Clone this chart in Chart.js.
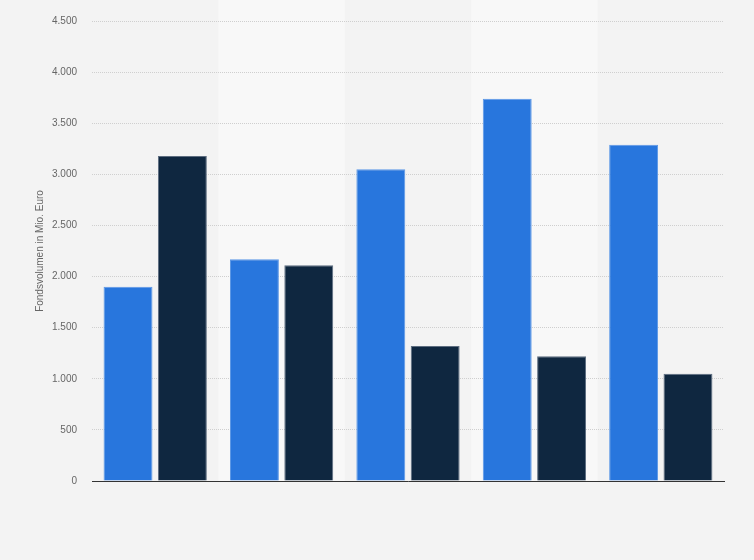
<!DOCTYPE html>
<html>
<head>
<meta charset="utf-8">
<script src="https://cdn.jsdelivr.net/npm/chart.js@4"></script>
<style>
  html, body { margin: 0; padding: 0; background: #f3f3f3; }
  #wrap { width: 754px; height: 560px; }
</style>
</head>
<body>
<div id="wrap"><canvas id="chart"></canvas></div>
<script>
const categories = ["", "", "", "", ""];
const seriesA = [1900, 2170, 3050, 3740, 3290];
const seriesB = [3180, 2110, 1320, 1220, 1050];
const yTicks = [0, 500, 1000, 1500, 2000, 2500, 3000, 3500, 4000, 4500];

// canvas background plus lighter band behind every second category
const bgPlugin = {
  id: "bg",
  beforeDraw(chart) {
    const { ctx, width, height, chartArea, scales } = chart;
    const x = scales.x;
    const step = x.width / categories.length;
    ctx.save();
    ctx.fillStyle = "#f3f3f3";
    ctx.fillRect(0, 0, width, height);
    ctx.fillStyle = "#f8f8f8";
    categories.forEach((c, i) => {
      if (i % 2 === 1) {
        const cx = x.getPixelForValue(i);
        ctx.fillRect(cx - step / 2, 0, step, chartArea.bottom);
      }
    });
    ctx.restore();
  },
};

const formatTick = (v) => v.toLocaleString("de-DE");

new Chart(document.getElementById("chart"), {
  type: "bar",
  data: {
    labels: categories,
    datasets: [
      {
        data: seriesA,
        backgroundColor: "#2876dd",
        borderColor: "#5b97e6",
        borderWidth: 1,
        categoryPercentage: 0.86,
        barPercentage: 0.9,
      },
      {
        data: seriesB,
        backgroundColor: "#0f2740",
        borderColor: "#5d6d80",
        borderWidth: 1,
        categoryPercentage: 0.86,
        barPercentage: 0.9,
      },
    ],
  },
  options: {
    responsive: true,
    maintainAspectRatio: false,
    animation: false,
    layout: { padding: { top: 19, right: 30, bottom: 79, left: 0 } },
    scales: {
      x: {
        grid: { display: false },
        border: { color: "#333333", width: 1 },
        ticks: { display: false },
        afterFit: (scale) => { scale.height = 0; },
      },
      y: {
        min: 0,
        max: 4500,
        afterBuildTicks: (scale) => {
          scale.ticks = yTicks.map((v) => ({ value: v }));
        },
        afterFit: (scale) => { scale.width = 92; },
        grid: {
          color: "#cfcfcf",
          drawTicks: false,
          lineWidth: 1,
        },
        border: { display: false, dash: [1, 1] },
        ticks: {
          padding: 15,
          color: "#666666",
          font: { family: "Liberation Sans, Arial", size: 10 },
          callback: (v) => formatTick(v),
        },
        title: {
          display: true,
          text: "Fondsvolumen in Mio. Euro",
          color: "#666666",
          font: { family: "Liberation Sans, Arial", size: 10 },
          padding: { top: 34, bottom: 0 },
        },
      },
    },
    plugins: {
      legend: { display: false },
      tooltip: { enabled: false },
    },
  },
  plugins: [bgPlugin],
});
</script>
</body>
</html>
